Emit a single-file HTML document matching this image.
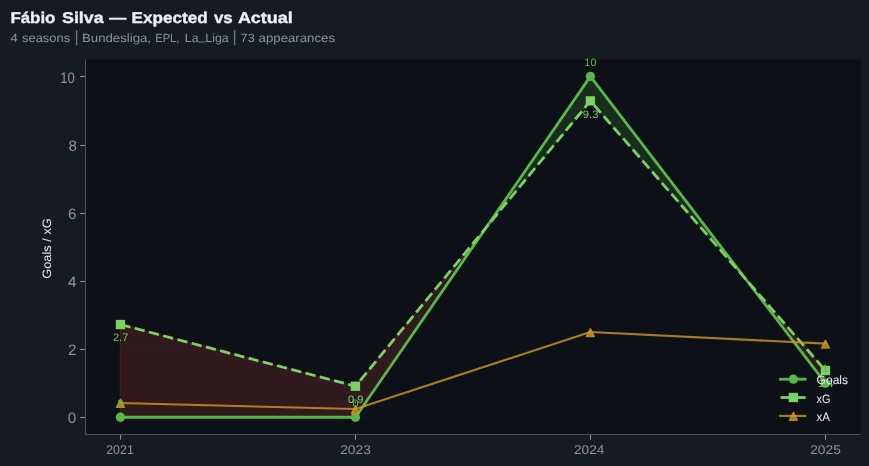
<!DOCTYPE html>
<html lang="en"><head><meta charset="utf-8"><title>Fábio Silva — Expected vs Actual</title>
<style>
html,body{margin:0;padding:0;background:#161b22;}
body{width:869px;height:466px;overflow:hidden;font-family:"Liberation Sans", sans-serif;}
svg{display:block;position:absolute;left:0;top:0;will-change:transform}
text{font-family:"Liberation Sans", sans-serif;text-rendering:geometricPrecision;}
</style></head><body>
<svg width="869" height="466" viewBox="0 0 869 466">
<rect x="0" y="0" width="869" height="466" fill="#161b22"/>
<g font-weight="700" font-size="15.6" fill="#ebf0f6" stroke="#ebf0f6" stroke-width="0.35" stroke-linejoin="round">
<text x="10.4" y="23" textLength="45.0" lengthAdjust="spacingAndGlyphs">Fábio</text>
<text x="62.0" y="23" textLength="41.6" lengthAdjust="spacingAndGlyphs">Silva</text>
<text x="109.2" y="23" textLength="17.0" lengthAdjust="spacingAndGlyphs">—</text>
<text x="131.6" y="23" textLength="76.2" lengthAdjust="spacingAndGlyphs">Expected</text>
<text x="213.9" y="23" textLength="18.8" lengthAdjust="spacingAndGlyphs">vs</text>
<text x="237.9" y="23" textLength="54.9" lengthAdjust="spacingAndGlyphs">Actual</text>
</g>
<g font-size="12" fill="#8b949e">
<text x="10.6" y="42" textLength="7.4" lengthAdjust="spacingAndGlyphs">4</text>
<text x="22.0" y="42" textLength="48.2" lengthAdjust="spacingAndGlyphs">seasons</text>
<text x="74.5" y="42" font-size="16" fill-opacity="0.8">|</text>
<text x="82.0" y="42" textLength="69.0" lengthAdjust="spacingAndGlyphs">Bundesliga,</text>
<text x="155.2" y="42" textLength="24.2" lengthAdjust="spacingAndGlyphs">EPL,</text>
<text x="184.8" y="42" textLength="43.8" lengthAdjust="spacingAndGlyphs">La<tspan dy="-1.8">_</tspan><tspan dy="1.8">Liga</tspan></text>
<text x="232.5" y="42" font-size="16" fill-opacity="0.8">|</text>
<text x="240.6" y="42" textLength="14.2" lengthAdjust="spacingAndGlyphs">73</text>
<text x="258.6" y="42" textLength="76.4" lengthAdjust="spacingAndGlyphs">appearances</text>
</g>
<rect x="85.2" y="59.3" width="775.45" height="375.00" fill="#0d1117"/>
<line x1="85.2" x2="860.65" y1="417.5" y2="417.5" stroke="#0f131a" stroke-width="1"/>
<line x1="85.2" x2="860.65" y1="349.5" y2="349.5" stroke="#0f131a" stroke-width="1"/>
<line x1="85.2" x2="860.65" y1="281.5" y2="281.5" stroke="#0f131a" stroke-width="1"/>
<line x1="85.2" x2="860.65" y1="213.5" y2="213.5" stroke="#0f131a" stroke-width="1"/>
<line x1="85.2" x2="860.65" y1="145.5" y2="145.5" stroke="#0f131a" stroke-width="1"/>
<line x1="85.2" x2="860.65" y1="76.5" y2="76.5" stroke="#0f131a" stroke-width="1"/>
<polygon points="120.45,324.53 355.45,386.23 486.62,226.93 355.45,417.25 120.45,417.25" fill="#f85149" fill-opacity="0.15" stroke="#f85149" stroke-opacity="0.15" stroke-width="1.39" stroke-linejoin="miter"/>
<polygon points="486.62,226.93 590.40,76.35 745.66,279.01 590.40,100.89" fill="#58b748" fill-opacity="0.17" stroke="#58b748" stroke-opacity="0.17" stroke-width="1.39" stroke-linejoin="miter"/>
<polygon points="745.66,279.01 825.45,370.55 825.45,383.16" fill="#f85149" fill-opacity="0.15" stroke="#f85149" stroke-opacity="0.15" stroke-width="1.39" stroke-linejoin="miter"/>
<polyline points="120.45,417.25 355.45,417.25 590.40,76.35 825.45,383.16" fill="none" stroke="#58b748" stroke-width="2.78" stroke-linejoin="round" stroke-linecap="butt"/>
<circle cx="120.45" cy="417.25" r="4.67" fill="#58b748"/>
<circle cx="355.45" cy="417.25" r="4.67" fill="#58b748"/>
<circle cx="590.4" cy="76.35" r="4.67" fill="#58b748"/>
<circle cx="825.45" cy="383.16" r="4.67" fill="#58b748"/>
<polyline points="120.45,324.53 355.45,386.23 590.40,100.89 825.45,370.55" fill="none" stroke="#7dd066" stroke-width="2.78" stroke-dasharray="10.28 4.44" stroke-linejoin="round"/>
<rect x="115.78" y="319.86" width="9.33" height="9.33" fill="#7dd066"/>
<rect x="350.78" y="381.56" width="9.33" height="9.33" fill="#7dd066"/>
<rect x="585.73" y="96.22" width="9.33" height="9.33" fill="#7dd066"/>
<rect x="820.78" y="365.88" width="9.33" height="9.33" fill="#7dd066"/>
<g opacity="0.8"><polyline points="120.45,402.93 355.45,409.07 590.40,332.02 825.45,343.62" fill="none" stroke="#d29922" stroke-width="2.08" stroke-linejoin="round"/></g>
<polygon points="120.45,399.38 116.45,407.38 124.45,407.38" fill="#d29922" stroke="#d29922" stroke-width="1.33" stroke-linejoin="round" fill-opacity="0.8" stroke-opacity="0.8"/>
<polygon points="355.45,405.52 351.45,413.52 359.45,413.52" fill="#d29922" stroke="#d29922" stroke-width="1.33" stroke-linejoin="round" fill-opacity="0.8" stroke-opacity="0.8"/>
<polygon points="590.40,328.47 586.40,336.47 594.40,336.47" fill="#d29922" stroke="#d29922" stroke-width="1.33" stroke-linejoin="round" fill-opacity="0.8" stroke-opacity="0.8"/>
<polygon points="825.45,340.07 821.45,348.07 829.45,348.07" fill="#d29922" stroke="#d29922" stroke-width="1.33" stroke-linejoin="round" fill-opacity="0.8" stroke-opacity="0.8"/>
<text x="120.45" y="406.55" font-size="10.9" fill="#58b748" text-anchor="middle">0</text>
<text x="355.45" y="406.55" font-size="10.9" fill="#58b748" text-anchor="middle">0</text>
<text x="590.40" y="65.65" font-size="10.9" fill="#58b748" text-anchor="middle">10</text>
<text x="825.45" y="372.46" font-size="10.9" fill="#58b748" text-anchor="middle">1</text>
<text x="112.90" y="341.23" font-size="10.9" fill="#7dd066" textLength="15.5" lengthAdjust="spacingAndGlyphs">2.7</text>
<text x="347.90" y="402.93" font-size="10.9" fill="#7dd066" textLength="15.5" lengthAdjust="spacingAndGlyphs">0.9</text>
<text x="582.85" y="117.59" font-size="10.9" fill="#7dd066" textLength="15.5" lengthAdjust="spacingAndGlyphs">9.3</text>
<text x="817.90" y="387.25" font-size="10.9" fill="#7dd066" textLength="15.5" lengthAdjust="spacingAndGlyphs">1.4</text>
<line x1="85.5" x2="85.5" y1="59.3" y2="435" stroke="#4a515a" stroke-width="1"/>
<line x1="85" x2="860.65" y1="434.5" y2="434.5" stroke="#4a515a" stroke-width="1"/>
<line x1="120.5" x2="120.5" y1="435" y2="439.8" stroke="#8b949e" stroke-width="1"/>
<line x1="355.5" x2="355.5" y1="435" y2="439.8" stroke="#8b949e" stroke-width="1"/>
<line x1="590.5" x2="590.5" y1="435" y2="439.8" stroke="#8b949e" stroke-width="1"/>
<line x1="825.5" x2="825.5" y1="435" y2="439.8" stroke="#8b949e" stroke-width="1"/>
<line x1="80.1" x2="85" y1="417.5" y2="417.5" stroke="#8b949e" stroke-width="1"/>
<line x1="80.1" x2="85" y1="349.5" y2="349.5" stroke="#8b949e" stroke-width="1"/>
<line x1="80.1" x2="85" y1="281.5" y2="281.5" stroke="#8b949e" stroke-width="1"/>
<line x1="80.1" x2="85" y1="213.5" y2="213.5" stroke="#8b949e" stroke-width="1"/>
<line x1="80.1" x2="85" y1="145.5" y2="145.5" stroke="#8b949e" stroke-width="1"/>
<line x1="80.1" x2="85" y1="76.5" y2="76.5" stroke="#8b949e" stroke-width="1"/>
<text x="106.2" y="454.2" font-size="12.7" fill="#8b949e" textLength="27.6" lengthAdjust="spacingAndGlyphs">2021</text>
<text x="340.2" y="454.2" font-size="12.7" fill="#8b949e" textLength="30.6" lengthAdjust="spacingAndGlyphs">2023</text>
<text x="574.0" y="454.2" font-size="12.7" fill="#8b949e" textLength="30.4" lengthAdjust="spacingAndGlyphs">2024</text>
<text x="810.2" y="454.2" font-size="12.7" fill="#8b949e" textLength="30.6" lengthAdjust="spacingAndGlyphs">2025</text>
<text x="76.2" y="422.7" font-size="15.2" fill="#8b949e" text-anchor="end">0</text>
<text x="76.5" y="355.0" font-size="15.2" fill="#8b949e" text-anchor="end">2</text>
<text x="76.5" y="287.0" font-size="15.2" fill="#8b949e" text-anchor="end">4</text>
<text x="76.4" y="219.0" font-size="15.2" fill="#8b949e" text-anchor="end">6</text>
<text x="76.9" y="151.0" font-size="15.2" fill="#8b949e" text-anchor="end">8</text>
<text x="74.9" y="82.9" font-size="15.2" fill="#8b949e" text-anchor="end" textLength="14.6" lengthAdjust="spacingAndGlyphs">10</text>
<text transform="translate(50.8,248.5) rotate(-90)" font-size="12.2" fill="#e6edf3" text-anchor="middle" textLength="60.5" lengthAdjust="spacingAndGlyphs">Goals / xG</text>
<line x1="779.1" x2="806.5" y1="379.2" y2="379.2" stroke="#58b748" stroke-width="2.78"/>
<circle cx="793.4" cy="379.2" r="4.67" fill="#58b748"/>
<line x1="780.5" x2="790" y1="397.5" y2="397.5" stroke="#7dd066" stroke-width="2.78"/>
<line x1="796" x2="805.6" y1="397.5" y2="397.5" stroke="#7dd066" stroke-width="2.78"/>
<rect x="788.73" y="392.83" width="9.33" height="9.33" fill="#7dd066"/>
<line x1="779.1" x2="806.5" y1="415.9" y2="415.9" stroke="#d29922" stroke-width="2.08" opacity="0.8"/>
<polygon points="793.40,412.35 789.40,420.35 797.40,420.35" fill="#d29922" stroke="#d29922" stroke-width="1.33" stroke-linejoin="round" fill-opacity="0.8" stroke-opacity="0.8"/>
<text x="816.6" y="383.7" font-size="12.2" fill="#e6edf3" textLength="31.4" lengthAdjust="spacingAndGlyphs">Goals</text>
<text x="816.6" y="402.6" font-size="12.2" fill="#e6edf3" textLength="14.0" lengthAdjust="spacingAndGlyphs">xG</text>
<text x="816.6" y="420.9" font-size="12.2" fill="#e6edf3" textLength="13.4" lengthAdjust="spacingAndGlyphs">xA</text>
</svg>
</body></html>
